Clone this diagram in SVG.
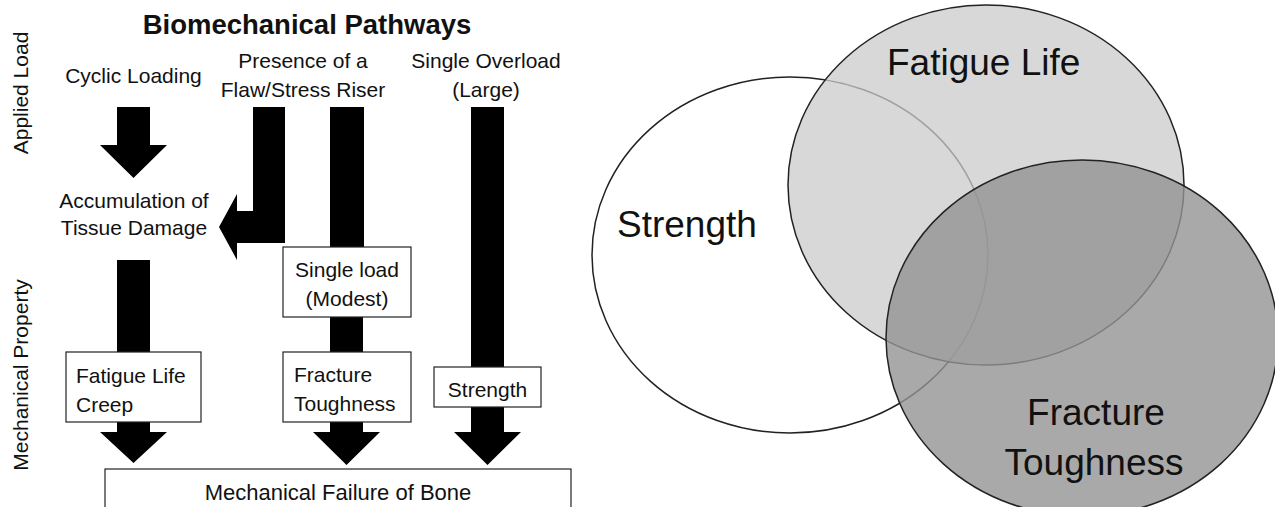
<svg xmlns="http://www.w3.org/2000/svg" width="1275" height="507" viewBox="0 0 1275 507">
<style>
text{font-family:"Liberation Sans",Arial,sans-serif;fill:#111}
.lbl{font-size:21px}
.mid{text-anchor:middle}
.box{fill:#fff;stroke:#222;stroke-width:1.2}
.arr{fill:#000}
.venn{font-size:37px}
.ell{stroke:#222;stroke-width:1.5}
</style>
<rect width="1275" height="507" fill="#fff"/>

<g id="title"><text x="307" y="34" class="mid" style="font-size:27.5px;font-weight:bold">Biomechanical Pathways</text></g>
<g id="axis-applied"><text class="lbl mid" transform="translate(28,93) rotate(-90)">Applied Load</text></g>
<g id="axis-mechanical"><text class="lbl mid" transform="translate(28,375) rotate(-90)">Mechanical Property</text></g>

<g id="connectors">
<polygon class="arr" points="117,107 150,107 150,145 167,145 133.5,178 100,145 117,145"/>
<polygon class="arr" points="253,107 285,107 285,243 237,243 237,260 219,227 237,194 237,211 253,211"/>
<rect class="arr" x="330" y="107" width="34" height="141"/>
<rect class="arr" x="330" y="316" width="33" height="37"/>
<polygon class="arr" points="330,421 363,421 363,432 380,432 346.5,465 313,432 330,432"/>
<rect class="arr" x="471" y="107" width="33" height="261"/>
<polygon class="arr" points="471,406 504,406 504,432 521,432 487.5,465 454,432 471,432"/>
<rect class="arr" x="117" y="260" width="33" height="93"/>
<polygon class="arr" points="117,421 150,421 150,432 167,432 133.5,463 100,432 117,432"/>
</g>

<g id="cyclic"><text x="133.5" y="83" class="lbl mid">Cyclic Loading</text></g>
<g id="flaw"><text x="303" y="68" class="lbl mid">Presence of a</text><text x="303" y="97" class="lbl mid">Flaw/Stress Riser</text></g>
<g id="overload"><text x="486" y="68" class="lbl mid">Single Overload</text><text x="486" y="97" class="lbl mid">(Large)</text></g>
<g id="accumulation"><text x="134" y="208" class="lbl mid">Accumulation of</text><text x="134" y="235" class="lbl mid">Tissue Damage</text></g>
<g id="single-load"><rect class="box" x="283" y="247" width="128" height="70"/><text x="347" y="277" class="lbl mid">Single load</text><text x="347" y="306" class="lbl mid">(Modest)</text></g>
<g id="fatigue-box"><rect class="box" x="66" y="352" width="135" height="70"/><text x="76" y="383" class="lbl">Fatigue Life</text><text x="76" y="412" class="lbl">Creep</text></g>
<g id="fracture-box"><rect class="box" x="283" y="352" width="128" height="70"/><text x="294" y="382" class="lbl">Fracture</text><text x="294" y="411" class="lbl">Toughness</text></g>
<g id="strength-box"><rect class="box" x="434" y="367" width="107" height="40"/><text x="487.5" y="397" class="lbl mid">Strength</text></g>
<g id="failure"><rect class="box" x="105" y="469" width="466" height="50"/><text x="338" y="500" class="mid" style="font-size:22px">Mechanical Failure of Bone</text></g>

<g id="venn-strength"><ellipse class="ell" cx="790" cy="255" rx="198" ry="178" fill="#fff"/></g>
<g id="venn-fatigue"><ellipse class="ell" cx="986" cy="185" rx="198" ry="180" fill="#cbcbcb" fill-opacity="0.75"/></g>
<g id="venn-fracture"><ellipse class="ell" cx="1082" cy="338" rx="196" ry="178" fill="#939393" fill-opacity="0.8"/></g>
<g id="venn-labels">
<text x="617" y="237" class="venn">Strength</text>
<text x="887" y="75" class="venn">Fatigue Life</text>
<text x="1096" y="425" class="venn mid">Fracture</text>
<text x="1094" y="475" class="venn mid">Toughness</text>
</g>
</svg>
